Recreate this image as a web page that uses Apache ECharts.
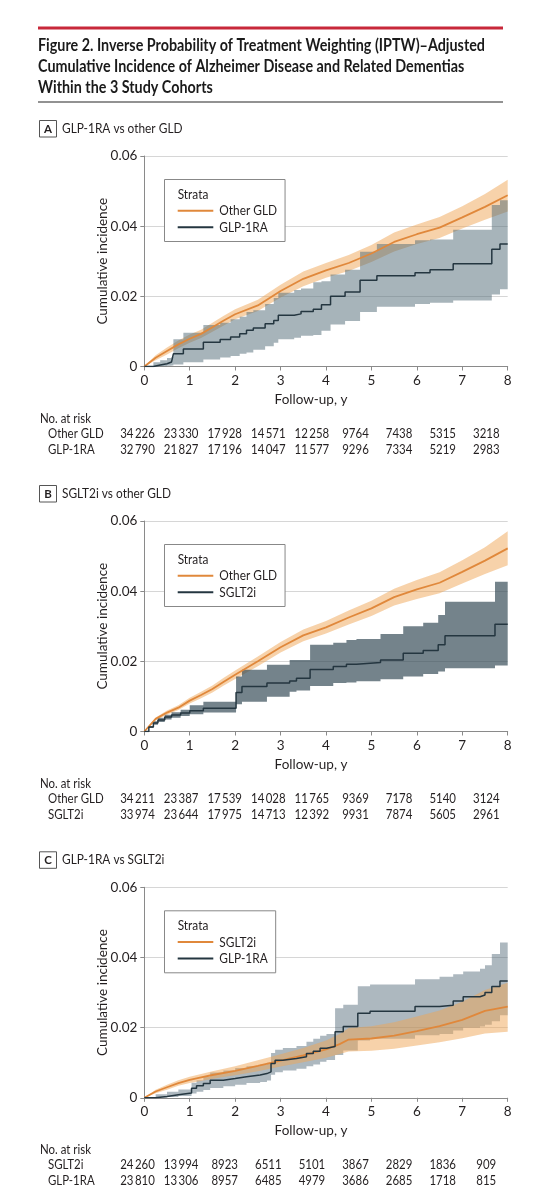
<!DOCTYPE html>
<html>
<head>
<meta charset="utf-8">
<script src="https://cdn.jsdelivr.net/npm/echarts@6/dist/echarts.min.js"></script>
<style>
html,body{margin:0;padding:0;background:#fff;}
#chart{width:547px;height:1200px;}
</style>
</head>
<body>
<div id="chart"></div>
<script>
// ---------------- DATA ----------------
const titleLines = [
  'Figure 2. Inverse Probability of Treatment Weighting (IPTW)\u2013Adjusted',
  'Cumulative Incidence of Alzheimer Disease and Related Dementias',
  'Within the 3 Study Cohorts'
];
const panelLetters = ['A', 'B', 'C'];
const panelTitles = ['GLP-1RA vs other GLD', 'SGLT2i vs other GLD', 'GLP-1RA vs SGLT2i'];
const legendNamesA = ['Other GLD', 'GLP-1RA'];
const legendNamesB = ['Other GLD', 'SGLT2i'];
const legendNamesC = ['SGLT2i', 'GLP-1RA'];
const yTicks = [0, 0.02, 0.04, 0.06];
const xTicks = [0, 1, 2, 3, 4, 5, 6, 7, 8];
const yAxisTitle = 'Cumulative incidence';
const xAxisTitle = 'Follow-up, y';
const riskTitle = 'No. at risk';

// Panel A: Other GLD (orange)
const aOthT  = [0,0.25,0.5,0.75,1,1.25,1.5,1.75,2,2.5,3,3.5,4,4.5,5,5.5,6,6.5,7,7.5,8];
const aOthY  = [0,0.0025,0.0044,0.0063,0.0079,0.0093,0.0112,0.0131,0.0149,0.0174,0.0215,0.025,0.0274,0.0295,0.0322,0.0355,0.0377,0.0396,0.0425,0.0455,0.0488];
const aOthLo = [0,0.0018,0.0034,0.0052,0.0068,0.0081,0.0099,0.0117,0.0135,0.0158,0.0197,0.0229,0.0253,0.0272,0.0298,0.0328,0.0349,0.0366,0.0393,0.0418,0.0442];
const aOthHi = [0,0.0032,0.0054,0.0074,0.0091,0.0105,0.0125,0.0145,0.0163,0.019,0.0233,0.0271,0.0295,0.0318,0.0346,0.0382,0.0405,0.0426,0.0457,0.0492,0.0532];
// Panel A: GLP-1RA (dark, step)
const aGlpT  = [0,0.2,0.35,0.5,0.6,0.64,0.86,1.3,1.67,1.9,2.1,2.25,2.4,2.66,2.85,2.95,3.3,3.45,3.72,3.9,4.1,4.42,4.75,5.12,5.96,6.29,6.8,7.65,7.83,8];
const aGlpY  = [0,0.0004,0.0008,0.0013,0.0017,0.0036,0.005,0.0069,0.0077,0.0084,0.0093,0.0103,0.011,0.0122,0.0131,0.0146,0.015,0.0157,0.0163,0.0176,0.02,0.0212,0.0246,0.0259,0.0267,0.0276,0.0293,0.0334,0.0349,0.0349];
const aGlpLo = [0,0,0,0.0002,0.0003,0.0006,0.0012,0.002,0.0026,0.003,0.0036,0.004,0.0048,0.0058,0.0068,0.0078,0.0082,0.0088,0.009,0.0102,0.012,0.013,0.0155,0.017,0.0178,0.0182,0.0188,0.0205,0.022,0.022];
const aGlpHi = [0,0.0012,0.0018,0.0024,0.0027,0.0078,0.0096,0.0118,0.0125,0.0135,0.0142,0.0155,0.016,0.0178,0.0195,0.021,0.0218,0.0222,0.024,0.0243,0.0262,0.0276,0.0327,0.0349,0.036,0.0362,0.039,0.046,0.0474,0.0474];

// Panel B: Other GLD (orange)
const bOthT  = [0,0.25,0.5,0.75,1,1.25,1.5,1.75,2,2.5,3,3.5,4,4.5,5,5.5,6,6.5,7,7.5,8];
const bOthY  = [0,0.0036,0.0054,0.0068,0.0088,0.0104,0.0121,0.0142,0.0162,0.02,0.024,0.0274,0.0297,0.0325,0.0351,0.0383,0.0405,0.0424,0.0455,0.0487,0.0522];
const bOthLo = [0,0.0032,0.0048,0.0061,0.008,0.0095,0.0111,0.0131,0.015,0.0186,0.0225,0.0257,0.0279,0.0305,0.0329,0.0359,0.0378,0.0394,0.0422,0.0449,0.0474];
const bOthHi = [0,0.004,0.006,0.0075,0.0096,0.0113,0.0131,0.0153,0.0174,0.0214,0.0255,0.0291,0.0315,0.0345,0.0373,0.0407,0.0432,0.0454,0.0488,0.0525,0.0571];
// Panel B: SGLT2i (dark, step)
const bSgT  = [0,0.1,0.2,0.3,0.45,0.6,0.8,1.0,1.3,2.02,2.15,2.7,3.2,3.35,3.65,4.16,4.45,4.67,5.2,5.7,6.14,6.47,6.62,7.72,8];
const bSgY  = [0,0.0013,0.0024,0.0033,0.0041,0.0047,0.0053,0.0059,0.0066,0.0111,0.0128,0.0138,0.0144,0.0152,0.0177,0.0185,0.0192,0.0197,0.0204,0.0223,0.0231,0.0247,0.0273,0.0306,0.0306];
const bSgLo = [0,0.001,0.0019,0.0027,0.0034,0.0039,0.0044,0.0049,0.0054,0.0078,0.0085,0.0099,0.0113,0.0117,0.013,0.0138,0.014,0.0143,0.0149,0.0157,0.0164,0.0171,0.018,0.0188,0.0188];
const bSgHi = [0,0.0016,0.0029,0.0039,0.0048,0.0055,0.0062,0.0075,0.0085,0.0157,0.0176,0.019,0.0204,0.0204,0.0247,0.0253,0.0261,0.0264,0.0278,0.03,0.031,0.0332,0.037,0.0427,0.0427];

// Panel C: SGLT2i (orange)
const cSgT  = [0,0.25,0.5,0.75,1,1.25,1.5,2,2.5,3,3.5,4,4.3,4.5,5,5.5,6,6.5,7,7.5,8];
const cSgY  = [0,0.0018,0.003,0.0042,0.0051,0.0058,0.0065,0.0077,0.0091,0.0106,0.0121,0.0138,0.0153,0.0166,0.0169,0.0177,0.019,0.0204,0.0222,0.0248,0.026];
const cSgLo = [0,0.0013,0.0023,0.0034,0.0042,0.0048,0.0054,0.0064,0.0076,0.0089,0.0101,0.0114,0.0125,0.0132,0.0134,0.014,0.0149,0.0158,0.017,0.0183,0.0188];
const cSgHi = [0,0.0023,0.0037,0.005,0.006,0.0068,0.0076,0.009,0.0107,0.0124,0.0142,0.0163,0.0182,0.0199,0.0204,0.0215,0.0232,0.0249,0.0274,0.0307,0.0328];
// Panel C: GLP-1RA (dark, step)
const cGlpT  = [0,0.25,0.5,0.75,1.04,1.15,1.3,1.45,1.74,2.0,2.25,2.55,2.7,2.79,2.88,3.05,3.35,3.57,3.72,3.87,4.01,4.2,4.38,4.7,4.97,5.96,6.5,6.8,7.02,7.39,7.5,7.65,7.83,8];
const cGlpY  = [0,0.0004,0.0009,0.0014,0.0027,0.0034,0.0041,0.005,0.0055,0.006,0.0065,0.0069,0.0074,0.0098,0.0107,0.0112,0.0117,0.0126,0.0133,0.0141,0.0146,0.0188,0.0203,0.0241,0.0247,0.026,0.0264,0.0276,0.0288,0.0293,0.03,0.0317,0.0333,0.0333];
const cGlpLo = [0,0,0.0002,0.0005,0.0012,0.0017,0.0022,0.0028,0.0033,0.0037,0.0042,0.0045,0.0049,0.0066,0.0073,0.0078,0.0083,0.009,0.0095,0.0103,0.0108,0.0122,0.0135,0.0163,0.0168,0.0178,0.0182,0.0192,0.02,0.0203,0.0208,0.0218,0.0235,0.0235];
const cGlpHi = [0,0.001,0.0017,0.0024,0.0043,0.005,0.006,0.0072,0.0078,0.0085,0.009,0.0095,0.01,0.0128,0.0137,0.0142,0.0148,0.016,0.0168,0.0177,0.0182,0.0255,0.0265,0.0318,0.0323,0.0338,0.0345,0.0352,0.036,0.0368,0.0378,0.041,0.0443,0.0443];

// Numbers at risk
const riskA1 = [34226,23330,17928,14571,12258,9764,7438,5315,3218];
const riskA2 = [32790,21827,17196,14047,11577,9296,7334,5219,2983];
const riskB1 = [34211,23387,17539,14028,11765,9369,7178,5140,3124];
const riskB2 = [33974,23644,17975,14713,12392,9931,7874,5605,2961];
const riskC1 = [24260,13994,8923,6511,5101,3867,2829,1836,909];
const riskC2 = [23810,13306,8957,6485,4979,3686,2685,1718,815];

// ---------------- STYLE / LAYOUT ----------------
const FONT = 'Lato, "Noto Sans", sans-serif';
const TXT = '#231f20';
const ORANGE = '#e0883b';
const ORANGE_BAND = 'rgba(240,165,85,0.5)';
const DARK = '#243640';
const GRAY_BANDS = ['rgba(80,105,118,0.5)', 'rgba(50,72,84,0.68)', 'rgba(80,105,118,0.47)'];
const GRID_LEFT = 144.3, GRID_W = 363.4, GRID_H = 210.5;
const PTOP = [156, 521, 887.3];

const mctx = document.createElement('canvas').getContext('2d');
function mw(text, size, weight) {
  mctx.font = (weight || 'normal') + ' ' + size + 'px ' + FONT;
  return mctx.measureText(text).width;
}
const bodyScale = Math.min(1, 51 / mw(riskTitle, 13.5));
const titleScale = Math.min(1, 447 / mw(titleLines[0], 16.5, 'bold'));

function T(x, y, text, size, o) {
  o = o || {};
  const al = o.align || 'left';
  return {
    type: 'text', x: x, y: y, z: 100, silent: true,
    scaleX: o.scale != null ? o.scale : bodyScale,
    style: {
      text: text, fontSize: size, fontFamily: FONT, fontWeight: o.weight || 'normal',
      fill: o.color || TXT, align: al, verticalAlign: 'middle',
      textAlign: al, textVerticalAlign: 'middle'
    }
  };
}
function L(x1, y1, x2, y2, color, w) {
  return { type: 'line', z: 100, silent: true, shape: { x1, y1, x2, y2 }, style: { stroke: color, lineWidth: w } };
}
function R(x, y, w, h, stroke) {
  return { type: 'rect', z: 99, silent: true, shape: { x, y, width: w, height: h }, style: { fill: '#fff', stroke: stroke, lineWidth: 1 } };
}
function fmtN(n) {
  return n >= 10000 ? String(n).replace(/(\d+)(\d{3})$/, '$1\u2009$2') : String(n);
}
function zip(t, v) { return t.map((x, i) => [x, v[i]]); }

// ---------------- GRAPHIC (title, headings, legends, risk tables) ----------------
const graphic = [];
graphic.push(L(38, 28, 503, 28, '#c8283a', 2.8));
titleLines.forEach((s, i) => graphic.push(T(38, 45.5 + i * 21, s, 16.5, { weight: 'bold', scale: titleScale, color: '#1a1a1a' })));
graphic.push(L(38, 102, 503, 102, '#6e6e6e', 1.5));

const legendSets = [
  [[legendNamesA[0], ORANGE], [legendNamesA[1], DARK]],
  [[legendNamesB[0], ORANGE], [legendNamesB[1], DARK]],
  [[legendNamesC[0], ORANGE], [legendNamesC[1], DARK]]
];
const riskSets = [
  [[legendNamesA[0], riskA1], [legendNamesA[1], riskA2]],
  [[legendNamesB[0], riskB1], [legendNamesB[1], riskB2]],
  [[legendNamesC[0], riskC1], [legendNamesC[1], riskC2]]
];

PTOP.forEach((top, p) => {
  const hy = top - 27.5;
  graphic.push(R(39.5, hy - 8, 17, 16.5, '#555'));
  graphic.push(T(48, hy + 0.5, panelLetters[p], 11.5, { weight: 'bold', align: 'center', scale: 1 }));
  graphic.push(T(62, hy, panelTitles[p], 14));

  // legend box
  const legSize = 14;
  const maxW = Math.max.apply(null, legendSets[p].map(d => mw(d[0], legSize) * bodyScale).concat([mw('Strata', legSize) * bodyScale]));
  const boxW = 219.3 - 164.5 + maxW + 8;
  graphic.push(R(164.5, top + 23.5, boxW, 62, '#888'));
  graphic.push(T(177.7, top + 38.5, 'Strata', legSize));
  legendSets[p].forEach((d, i) => {
    const ly = top + 54.8 + i * 16.5;
    graphic.push(L(177.7, ly, 213.3, ly, d[1], 2));
    graphic.push(T(219.3, ly, d[0], legSize));
  });

  // numbers at risk
  const ax = top + GRID_H;
  graphic.push(T(40, ax + 52, riskTitle, 13.5));
  riskSets[p].forEach((d, r) => {
    const ry = ax + 66.8 + r * 16.3;
    graphic.push(T(48, ry, d[0], 13.5));
    d[1].forEach((n, i) => graphic.push(T(137.5 + 43.6 * i, ry, fmtN(n), 13.5, { align: 'center' })));
  });
});

// ---------------- AXES / SERIES ----------------
const grids = [], xAxes = [], yAxes = [], series = [];
PTOP.forEach((top, p) => {
  grids.push({ left: GRID_LEFT, top: top, width: GRID_W, height: GRID_H, containLabel: false, outerBoundsMode: 'none' });
  xAxes.push({
    type: 'value', gridIndex: p, min: xTicks[0], max: xTicks[xTicks.length - 1], interval: 1,
    name: xAxisTitle, nameLocation: 'middle', nameGap: 26, nameMoveOverlap: false,
    nameTextStyle: { fontSize: 13.5, fontFamily: FONT, color: TXT, padding: [0, 30, 0, 0] },
    axisLine: { show: true, lineStyle: { color: '#8a8a8a', width: 1 } },
    axisTick: { show: true, length: 4, lineStyle: { color: '#8a8a8a' } },
    axisLabel: { fontSize: 13.5, fontFamily: FONT, color: TXT, margin: 7 },
    splitLine: { show: false }
  });
  yAxes.push({
    type: 'value', gridIndex: p, min: yTicks[0], max: yTicks[yTicks.length - 1], interval: 0.02,
    name: yAxisTitle, nameLocation: 'middle', nameGap: 35, nameRotate: 90, nameMoveOverlap: false,
    nameTextStyle: { fontSize: 13.5, fontFamily: FONT, color: TXT },
    axisLine: { show: true, lineStyle: { color: '#8a8a8a', width: 1 } },
    axisTick: { show: true, length: 4, lineStyle: { color: '#8a8a8a' } },
    axisLabel: { fontSize: 13.5, fontFamily: FONT, color: TXT, margin: 7, formatter: v => v === 0 ? '0' : v.toFixed(2) },
    splitLine: { show: true, lineStyle: { color: '#d6d6d6', width: 1 } }
  });
});

// confidence band drawn as one polygon through the axis scales (api.coord)
function band(p, t, lo, hi, color, step, z) {
  return {
    type: 'custom', xAxisIndex: p, yAxisIndex: p, z: z, silent: true, clip: true,
    data: t.map((x, i) => [x, lo[i], hi[i]]),
    encode: { x: 0, y: [1, 2] },
    renderItem: function (params, api) {
      if (params.dataIndex !== 0) return null;
      const n = t.length, up = [], dn = [];
      for (let i = 0; i < n; i++) {
        up.push(api.coord([t[i], hi[i]]));
        dn.push(api.coord([t[i], lo[i]]));
        if (step && i < n - 1) {
          up.push(api.coord([t[i + 1], hi[i]]));
          dn.push(api.coord([t[i + 1], lo[i]]));
        }
      }
      return { type: 'polygon', shape: { points: up.concat(dn.reverse()) }, style: { fill: color } };
    }
  };
}
function curve(p, name, t, y, color, step, width, z) {
  return { type: 'line', name: name, xAxisIndex: p, yAxisIndex: p, data: zip(t, y), step: step, symbol: 'none',
    silent: true, z: z, lineStyle: { color: color, width: width }, emphasis: { disabled: true } };
}

// Panel A
series.push(band(0, aOthT, aOthLo, aOthHi, ORANGE_BAND, false, 1));
series.push(band(0, aGlpT, aGlpLo, aGlpHi, GRAY_BANDS[0], true, 1.5));
series.push(curve(0, legendNamesA[0], aOthT, aOthY, ORANGE, false, 1.8, 3));
series.push(curve(0, legendNamesA[1], aGlpT, aGlpY, DARK, 'end', 1.5, 4));
// Panel B
series.push(band(1, bOthT, bOthLo, bOthHi, ORANGE_BAND, false, 1));
series.push(band(1, bSgT, bSgLo, bSgHi, GRAY_BANDS[1], true, 1.5));
series.push(curve(1, legendNamesB[0], bOthT, bOthY, ORANGE, false, 1.8, 3));
series.push(curve(1, legendNamesB[1], bSgT, bSgY, DARK, 'end', 1.5, 4));
// Panel C
series.push(band(2, cGlpT, cGlpLo, cGlpHi, GRAY_BANDS[2], true, 1));
series.push(band(2, cSgT, cSgLo, cSgHi, ORANGE_BAND, false, 1.5));
series.push(curve(2, legendNamesC[0], cSgT, cSgY, ORANGE, false, 1.8, 3));
series.push(curve(2, legendNamesC[1], cGlpT, cGlpY, DARK, 'end', 1.5, 4));

const chart = echarts.init(document.getElementById('chart'), null, { renderer: 'canvas', width: 547, height: 1200 });
chart.setOption({
  animation: false,
  backgroundColor: '#fff',
  textStyle: { fontFamily: FONT },
  grid: grids,
  xAxis: xAxes,
  yAxis: yAxes,
  series: series,
  graphic: graphic
});
</script>
</body>
</html>
